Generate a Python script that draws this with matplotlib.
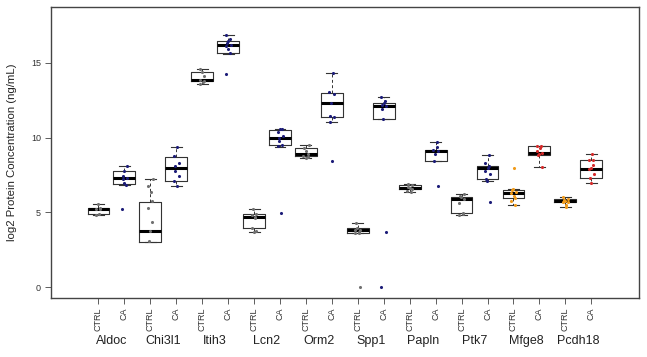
import numpy as np
import matplotlib
matplotlib.use("Agg")
import matplotlib.pyplot as plt

plt.rcParams['font.family'] = ['Liberation Sans', 'DejaVu Sans']

# genes, two groups each (CTRL, CA)
genes = ['Aldoc', 'Chi3l1', 'Itih3', 'Lcn2', 'Orm2',
         'Spp1', 'Papln', 'Ptk7', 'Mfge8', 'Pcdh18']
groups = ['CTRL', 'CA']

# box statistics, order: gene1 CTRL, gene1 CA, gene2 CTRL ...
whislo = [4.85, 6.84, 3.04, 6.78, 13.58, 15.60, 3.69, 9.40, 8.64, 11.07,
          3.60, 11.24, 6.38, 8.42, 4.84, 7.11, 5.49, 8.02, 5.38, 7.00]
q1 = [4.93, 6.93, 3.04, 7.13, 13.78, 15.64, 3.95, 9.53, 8.76, 11.38,
      3.64, 11.24, 6.56, 8.42, 4.98, 7.22, 5.98, 8.84, 5.67, 7.31]
med = [5.22, 7.31, 3.73, 7.96, 13.84, 16.18, 4.73, 10.00, 8.89, 12.29,
       3.82, 12.13, 6.62, 9.13, 5.87, 7.96, 6.29, 8.98, 5.80, 7.91]
q3 = [5.33, 7.78, 5.69, 8.73, 14.38, 16.44, 4.87, 10.51, 9.33, 12.98,
      3.96, 12.29, 6.84, 9.18, 6.02, 8.11, 6.51, 9.42, 5.93, 8.51]
whishi = [5.58, 8.13, 7.27, 9.38, 14.58, 16.84, 5.20, 10.58, 9.49, 14.31,
          4.31, 12.69, 6.91, 9.71, 6.24, 8.84, 6.60, 9.47, 6.04, 8.89]

# individual samples (incl. the outlying ones)
points = [
    [5.58, 5.33, 5.22, 5.20, 4.93, 4.85],
    [8.13, 7.78, 7.47, 7.31, 7.25, 6.98, 6.84, 5.24],
    [7.27, 6.80, 6.36, 5.80, 5.33, 4.38, 3.75, 3.07],
    [9.38, 8.76, 8.31, 8.13, 7.75, 7.47, 7.09, 6.80],
    [14.58, 14.40, 14.10, 13.84, 13.80, 13.70, 13.58],
    [16.84, 16.60, 16.44, 16.30, 16.20, 16.10, 15.90, 15.64, 14.27],
    [5.20, 4.87, 4.80, 4.73, 4.60, 3.95, 3.75, 3.69],
    [10.58, 10.55, 10.40, 10.10, 10.00, 9.80, 9.53, 9.45, 4.95],
    [9.49, 9.33, 9.10, 8.89, 8.80, 8.70, 8.64],
    [14.31, 13.04, 12.95, 12.31, 11.47, 11.38, 11.07, 8.44],
    [4.31, 3.96, 3.85, 3.82, 3.70, 3.64, 3.60, 0.00],
    [12.69, 12.45, 12.29, 12.20, 12.13, 11.90, 11.24, 3.71, 0.00],
    [6.91, 6.84, 6.70, 6.62, 6.56, 6.45, 6.38],
    [9.71, 9.40, 9.18, 9.13, 8.90, 8.42, 6.76],
    [6.24, 6.10, 6.02, 5.87, 5.60, 4.98, 4.90, 4.84],
    [8.84, 8.30, 8.11, 7.96, 7.80, 7.60, 7.22, 7.11, 5.71],
    [6.60, 6.51, 6.40, 6.29, 6.10, 5.98, 5.75, 5.49, 7.98],
    [9.47, 9.42, 9.30, 9.10, 8.98, 8.90, 8.84, 8.02],
    [6.04, 5.93, 5.85, 5.80, 5.70, 5.67, 5.50, 5.38],
    [8.89, 8.51, 8.50, 8.20, 8.00, 7.91, 7.60, 7.31, 7.00],
]

ctrl_col = '#707070'
ca_col = '#1c1c78'
orange = '#f09a1a'
red = '#d42a2a'
point_cols = []
for g in genes:
    if g in ('Mfge8', 'Pcdh18'):
        point_cols += [orange, red]
    else:
        point_cols += [ctrl_col, ca_col]

fig = plt.figure(figsize=(6.47, 3.57), dpi=100)
ax = fig.add_axes([50.7 / 647, (357 - 298) / 357, 588.3 / 647, 290.7 / 357])

pos = np.arange(1, len(whislo) + 1)
stats = []
for i in range(len(whislo)):
    stats.append(dict(whislo=whislo[i], q1=q1[i], med=med[i], q3=q3[i],
                      whishi=whishi[i], fliers=[]))

ax.bxp(stats, positions=pos, widths=0.84, capwidths=0.42, showfliers=False,
       boxprops=dict(color='#333333', linewidth=0.8),
       medianprops=dict(color='black', linewidth=2.2),
       whiskerprops=dict(color='#333333', linewidth=0.7, linestyle=(0, (3, 2.5))),
       capprops=dict(color='#333333', linewidth=0.8))

for i, vals in enumerate(points):
    n = len(vals)
    jit = 0.1 * np.sin(np.arange(n) * 2.3 + i)
    ax.scatter(pos[i] + jit, vals, s=5, color=point_cols[i], lw=0, zorder=3)

ax.set_xlim(-0.84, 21.84)
ax.set_ylim(-0.72, 18.72)

ax.set_yticks([0, 5, 10, 15])
ax.tick_params(axis='y', labelsize=6.5, labelcolor='#333333', length=4,
               width=0.6, color='#444444', pad=3)
ax.set_ylabel('log2 Protein Concentration (ng/mL)', fontsize=8.2,
              color='#222222', labelpad=10)

ax.set_xticks(pos)
ax.set_xticklabels(groups * len(genes), rotation=90, fontsize=6.5,
                   color='#333333')
ax.tick_params(axis='x', length=4, width=0.6, color='#444444', pad=3)

for k, g in enumerate(genes):
    ax.annotate(g, xy=(2 * k + 1.5, 0), xycoords=('data', 'axes fraction'),
                xytext=(0, -31), textcoords='offset points',
                ha='center', va='center', fontsize=9, color='#222222')

for s in ax.spines.values():
    s.set_color('#444444')
    s.set_linewidth(1.0)

fig.savefig('out.png', dpi=100)
